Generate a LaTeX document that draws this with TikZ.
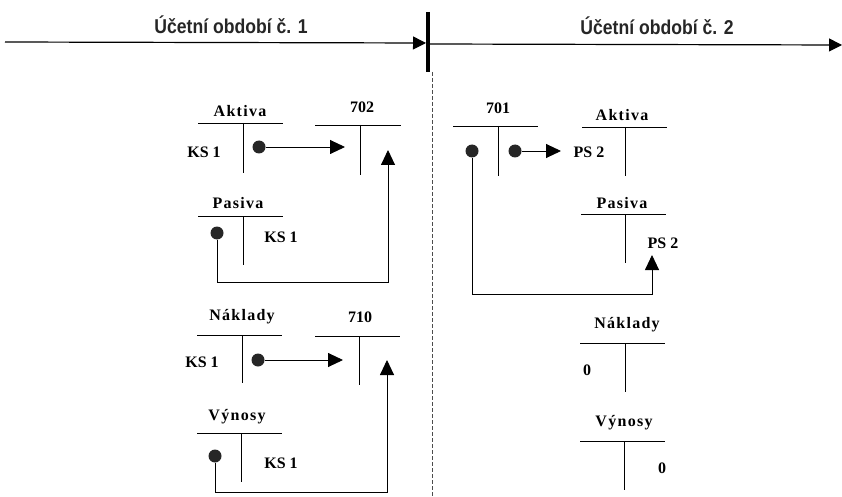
\documentclass[tikz,border=0pt]{standalone}
\usepackage{fontspec}
\setmainfont{Liberation Serif}
\newfontfamily\hlavafont[FakeStretch=0.88]{Liberation Sans Bold}
\usetikzlibrary{arrows.meta}
\begin{document}
\begin{tikzpicture}[x=1pt,y=-1pt,
  hlava/.style={font=\hlavafont\fontsize{20}{22}\selectfont,anchor=center,text=black!85},
  nazev/.style={font=\bfseries\fontsize{16}{18}\selectfont\addfontfeature{LetterSpace=8},anchor=center},
  cislo/.style={font=\bfseries\fontsize{16}{18}\selectfont,anchor=center},
  tecka/.style={circle,fill=black!85,inner sep=0pt,minimum size=13pt},
  sipka/.style={-{Triangle[length=15pt,width=14pt]},line width=0.9pt},
  osa/.style={-{Triangle[length=13pt,width=13pt]},line width=1.2pt},
  ucet/.style={line width=0.9pt}]

  \useasboundingbox (0,0) rectangle (842,497);

  % casova osa
  \draw node[hlava] (obd1) at (231,25) {Účetní období č. 1};
  \draw node[hlava] (obd2) at (657,26) {Účetní období č. 2};
  \coordinate (osaA) at (5,42);
  \coordinate (osaB) at (426,43);
  \coordinate (osaC) at (430,44);
  \coordinate (osaD) at (842,45);
  \draw[osa] (osaA) -- (osaB);
  \draw[osa] (osaC) -- (osaD);
  \draw[line width=4pt] (428,12) -- (428,72);
  \draw[dashed,dash pattern=on 4pt off 2pt,line width=0.5pt,black!70] (432,72) -- (432,497);

  % obdobi 1
  \draw node[nazev] (aktL) at (240,111) {Aktiva};
  \draw[ucet] (198,123) -- (283,123);
  \draw[ucet] (243,123) -- (243,173);
  \draw node[cislo] (ksA) at (204,152) {KS 1};

  \draw node[cislo] (u702) at (362,107) {702};
  \draw[ucet] (315,125) -- (401,125);
  \draw[ucet] (360,125) -- (360,175);

  \draw node[nazev] (pasL) at (238,203) {Pasiva};
  \draw[ucet] (198,216) -- (283,216);
  \draw[ucet] (243,216) -- (243,265);
  \draw node[cislo] (ksP) at (281,237) {KS 1};

  \draw node[nazev] (nakL) at (242,317) {Náklady};
  \draw[ucet] (197,335) -- (282,335);
  \draw[ucet] (242,335) -- (242,383);
  \draw node[cislo] (ksN) at (202,362) {KS 1};

  \draw node[cislo] (u710) at (360,317) {710};
  \draw[ucet] (315,336) -- (400,336);
  \draw[ucet] (359,336) -- (359,385);

  \draw node[nazev] (vynL) at (237,417) {Výnosy};
  \draw[ucet] (197,433) -- (282,433);
  \draw[ucet] (241,433) -- (241,482);
  \draw node[cislo] (ksV) at (281,463) {KS 1};

  \node[tecka] (dA) at (259,147) {};
  \node[tecka] (dP) at (217,233) {};
  \node[tecka] (dN) at (258,360) {};
  \node[tecka] (dV) at (215,456) {};
  \coordinate (k702a) at (345,147);
  \coordinate (k702b) at (388,150);
  \coordinate (rohP) at (217,282);
  \coordinate (k710a) at (343,360);
  \coordinate (k710b) at (387,360);
  \coordinate (rohV) at (215,492);
  \draw[sipka] (dA) -- (k702a);
  \draw[sipka] (dP) -- (rohP) -| (k702b);
  \draw[sipka] (dN) -- (k710a);
  \draw[sipka] (dV) -- (rohV) -| (k710b);

  % obdobi 2
  \draw node[cislo] (u701) at (498,108) {701};
  \draw[ucet] (453,126) -- (538,126);
  \draw[ucet] (498,126) -- (498,176);

  \draw node[nazev] (aktR) at (622,115) {Aktiva};
  \draw[ucet] (582,127) -- (667,127);
  \draw[ucet] (625,127) -- (625,176);
  \draw node[cislo] (psA) at (589,152) {PS 2};

  \draw node[nazev] (pasR) at (622,203) {Pasiva};
  \draw[ucet] (581,214) -- (666,214);
  \draw[ucet] (625,214) -- (625,263);
  \draw node[cislo] (psP) at (663,243) {PS 2};

  \draw node[nazev] (nakR) at (627,325) {Náklady};
  \draw[ucet] (580,343) -- (665,343);
  \draw[ucet] (625,343) -- (625,392);
  \draw node[cislo] (nulaN) at (587,370) {0};

  \draw node[nazev] (vynR) at (624,423) {Výnosy};
  \draw[ucet] (580,441) -- (665,441);
  \draw[ucet] (624,441) -- (624,490);
  \draw node[cislo] (nulaV) at (662,468) {0};

  \node[tecka] (d1) at (472,151) {};
  \node[tecka] (d2) at (515,151) {};
  \coordinate (kPS) at (652,255);
  \coordinate (rohR) at (472,294);
  \coordinate (kPSa) at (561,151);
  \draw[sipka] (d2) -- (kPSa);
  \draw[sipka] (d1) -- (rohR) -| (kPS);

\end{tikzpicture}
\end{document}
